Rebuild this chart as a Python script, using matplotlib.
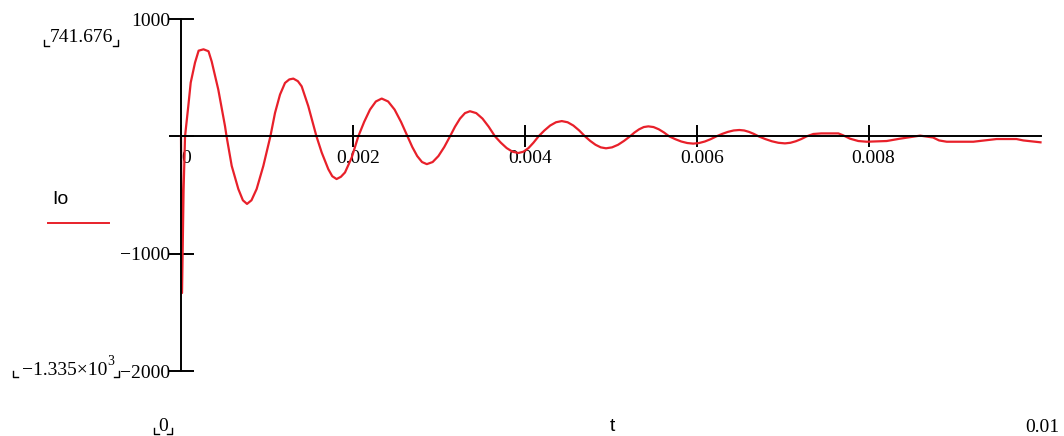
import matplotlib
matplotlib.use("Agg")
import matplotlib.pyplot as plt
from matplotlib.transforms import ScaledTranslation
from matplotlib.lines import Line2D

# current Io(t)
t = [0.0, 0.000012, 0.00003, 0.000047, 0.000085, 0.000113, 0.000163, 0.000205,
     0.000262, 0.00032, 0.000357, 0.000434, 0.000512, 0.00053,
     0.00059, 0.000667, 0.00072, 0.000768, 0.00082, 0.00088, 0.000958, 0.00104,
     0.001094, 0.001152, 0.00121, 0.00126, 0.001307, 0.00136, 0.001404, 0.001481, 0.001576,
     0.001637, 0.001714, 0.00176, 0.00181, 0.00186, 0.001908, 0.001986, 0.002063,
     0.002131, 0.002199, 0.002267, 0.002335, 0.00241, 0.002485, 0.00256, 0.002635,
     0.002691, 0.002748, 0.002804, 0.00286, 0.002928, 0.002995, 0.003063, 0.00313,
     0.003188, 0.003246, 0.003304, 0.003362, 0.003435, 0.003508, 0.00358, 0.003653,
     0.003721, 0.003789, 0.003857, 0.003925, 0.003984, 0.004043, 0.004101, 0.00416,
     0.004228, 0.004295, 0.004363, 0.00443, 0.004498, 0.004565, 0.004633, 0.0047,
     0.004761, 0.004823, 0.004884, 0.004945, 0.005015, 0.005085, 0.005154, 0.005224,
     0.005277, 0.00533, 0.005384, 0.005437, 0.005498, 0.005559, 0.005619, 0.00568,
     0.00575, 0.00582, 0.00589, 0.00596, 0.006028, 0.006095, 0.006163, 0.00623,
     0.006297, 0.006363, 0.00643, 0.006496, 0.006552, 0.006608, 0.006664, 0.00672,
     0.006797, 0.006874, 0.00695, 0.007027, 0.00709, 0.007153, 0.007217, 0.00728,
     0.007357, 0.00745, 0.007648, 0.0077, 0.007784, 0.00788, 0.007978, 0.00821,
     0.008365, 0.0086, 0.00875, 0.00882, 0.008909, 0.009218, 0.00935, 0.00949,
     0.00972, 0.0098, 0.01]
io = [0, -1335, -460, 0, 258, 458, 628, 730,
      741.676, 725, 638, 398, 87, 0,
      -252, -449, -545, -576, -545, -449, -252, 0,
      200, 356, 455, 485, 492, 470, 426, 257, 0,
      -138, -280, -340, -364, -345, -308, -181, 0,
      123, 228, 297, 322, 297, 228, 123, 0,
      -91, -168, -219, -237, -219, -168, -91, 0,
      82, 151, 198, 214, 198, 151, 82, 0,
      -54, -100, -131, -142, -131, -100, -54, 0,
      50, 92, 120, 130, 120, 92, 50, 0,
      -39, -72, -94, -102, -94, -72, -39, 0,
      33, 60, 79, 85, 79, 60, 33, 0,
      -24, -44, -57, -62, -57, -44, -24, 0,
      21, 38, 50, 54, 50, 38, 21, 0,
      -23, -42, -55, -60, -55, -42, -23, 0,
      20, 25, 25, 10, -20, -40, -46, -40,
      -20, 6, -10, -35, -46, -46, -35, -23,
      -23, -35, -51]

xticks = [0, 0.002, 0.004, 0.006, 0.008]
xlabels = ["0", "0.002", "0.004", "0.006", "0.008"]
yticks = [1000, 0, -1000, -2000]
ylabels = ["1000", "", "\u22121000", "\u22122000"]

serif = "Liberation Serif"
sans = "Liberation Sans"
red = "#e8202a"
fs = 14

fig = plt.figure(figsize=(10.64, 4.36), dpi=100)
ax = fig.add_axes([181 / 1064, 65 / 436, 859.5 / 1064, 352 / 436])

ax.plot(t, io, color=red, lw=1.6, clip_on=False)
ax.set_xlim(0, 0.01)
ax.set_ylim(-2000, 1000)

for s in ["top", "right"]:
    ax.spines[s].set_visible(False)
ax.spines["bottom"].set_position(("data", 0))
ax.spines["left"].set_linewidth(1.4)
ax.spines["bottom"].set_linewidth(1.4)

ax.set_yticks(yticks)
ax.set_yticklabels(ylabels, fontfamily=serif, fontsize=fs)
ax.tick_params(axis="y", direction="inout", length=18, width=1.4, pad=-1.5)
ax.set_xticks(xticks)
ax.set_xticklabels(xlabels, fontfamily=serif, fontsize=fs)
ax.tick_params(axis="x", direction="inout", length=16, width=1.4, pad=2)
off = ScaledTranslation(5 / 100, 0, fig.dpi_scale_trans)
for lab in ax.get_xticklabels():
    lab.set_transform(lab.get_transform() + off)

def px(x, y):
    return x / 1064, 1 - y / 436

def corner(x, y, side):
    # small Mathcad range marker, bottom corner at (x, y) in pixels
    dx = 5 if side == "left" else -5
    xs = [x / 1064, x / 1064, (x + dx) / 1064]
    ys = [1 - (y - 6) / 436, 1 - y / 436, 1 - y / 436]
    fig.add_artist(Line2D(xs, ys, color="black", lw=1.0))

# range labels
fig.text(*px(81.5, 38), "741.676", fontfamily=serif, fontsize=fs, ha="center", va="center")
corner(44, 46, "left")
corner(118, 46, "right")

fig.text(*px(107, 370), "\u22121.335\u00d710", fontfamily=serif, fontsize=fs,
         ha="right", va="center")
fig.text(*px(111, 361), "3", fontfamily=serif, fontsize=10, ha="center", va="center")
corner(13, 377, "left")
corner(119, 377, "right")

fig.text(*px(163, 426), "0", fontfamily=serif, fontsize=fs, ha="center", va="center")
corner(154, 434, "left")
corner(172, 434, "right")

fig.text(*px(1059, 427), "0.01", fontfamily=serif, fontsize=fs, ha="right", va="center")
fig.text(*px(612, 426), "t", fontfamily=sans, fontsize=fs, ha="center", va="center")

fig.text(*px(60, 199), "Io", fontfamily=sans, fontsize=fs, ha="center", va="center")
fig.add_artist(Line2D([48 / 1064, 109 / 1064], [1 - 223 / 436] * 2, color=red, lw=1.4))

fig.savefig("out.png", dpi=100)
